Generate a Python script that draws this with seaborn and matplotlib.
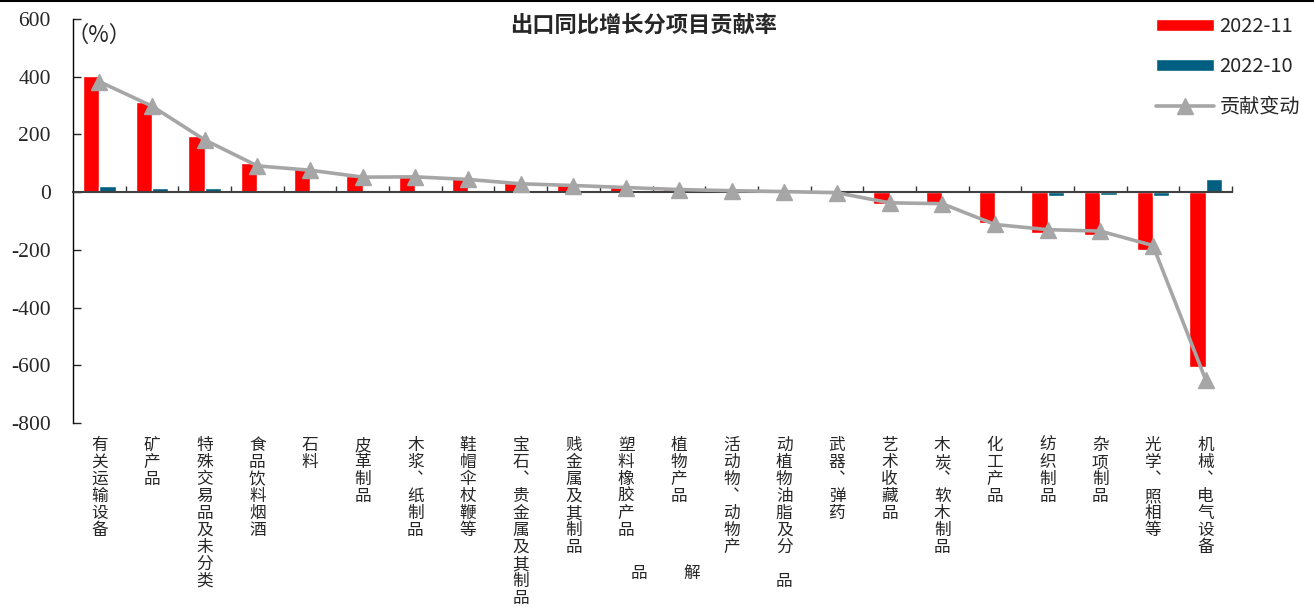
import pandas as pd
import numpy as np
import seaborn as sns
import matplotlib.pyplot as plt
import matplotlib.transforms as mtransforms
from matplotlib.lines import Line2D

categories = ['有关运输设备', '矿产品', '特殊交易品及未分类', '食品饮料烟酒', '石料',
              '皮革制品', '木浆︑纸制品', '鞋帽伞杖鞭等', '宝石︑贵金属及其制品',
              '贱金属及其制品', '塑料橡胶产品', '植物产品', '活动物︑动物产',
              '动植物油脂及分 品', '武器︑弹药', '艺术收藏品', '木炭︑软木制品',
              '化工产品', '纺织制品', '杂项制品', '光学︑照相等', '机械︑电气设备']
nov = [403, 314, 194, 100, 82, 57, 58, 48, 33, 28, 20, 10, 6, 3, -2, -40, -37,
       -107, -141, -147, -199, -605]
octo = [20, 13, 13, 8, 6, 5, 5, 4, 4, 4, 3, 1, 1, 0.5, -1, -2, -2,
        8, -12, -10, -12, 47]
change = [383, 298, 181, 91, 76, 52, 53, 44, 29, 23, 16, 9, 5, 2, -2, -37, -40,
          -112, -130, -135, -185, -650]
series = ['2022-11', '2022-10']
# stray characters that spill below two of the labels
extra_chars = ['品', '解']

df = pd.DataFrame({'cat': categories * 2,
                   'val': nov + octo,
                   'series': [series[0]] * len(categories) + [series[1]] * len(categories)})

sns.set_style('white')
plt.rcParams['font.family'] = ['Noto Sans CJK SC', 'DejaVu Sans']

W, H = 1314, 610
fig = plt.figure(figsize=(W / 100, H / 100), dpi=100)
ax = fig.add_axes([73 / W, (H - 423) / H, (1232 - 73) / W, (423 - 19) / H])

sns.barplot(data=df, x='cat', y='val', hue='series', hue_order=series,
            palette=['#FF0000', '#005F80'], width=0.62, ax=ax, saturation=1)
ax.plot(range(len(categories)), change, color='#A6A6A6', lw=2.6, marker='^',
        markersize=12, label='贡献变动', zorder=5)

ax.set_xlim(-0.5, len(categories) - 0.5)
ax.set_ylim(-800, 600)
ax.set_yticks(np.arange(-800, 601, 200))
ax.set_yticklabels([str(v) for v in range(-800, 601, 200)])
for t in ax.get_yticklabels():
    t.set_fontfamily('Liberation Serif')
    t.set_fontsize(15.5)
ax.tick_params(axis='y', direction='in', length=6, width=1, pad=16, left=True)
ax.set_xlabel('')
ax.set_ylabel('')
ax.set_xticks(range(len(categories)))
ax.set_xticklabels([])
ax.tick_params(axis='x', which='major', length=0)
ax.set_xticks(np.arange(0.5, len(categories) - 0.4, 1), minor=True)
ax.tick_params(axis='x', which='minor', direction='in', length=4, width=1,
               color='#333333', bottom=True)

for s in ['top', 'right']:
    ax.spines[s].set_visible(False)
ax.spines['bottom'].set_position(('data', 0))
ax.spines['bottom'].set_color('#404040')
ax.spines['bottom'].set_linewidth(1.5)
ax.spines['left'].set_color('black')
ax.spines['left'].set_linewidth(1)

# category labels written vertically at the bottom of the chart
trans = mtransforms.blended_transform_factory(ax.transData, ax.transAxes)
for i, lab in enumerate(categories):
    ax.text(i, -0.035, '\n'.join(lab), transform=trans, ha='center', va='top',
            fontsize=12, linespacing=1.0, clip_on=False)
row7 = -0.035 - 7 * 18.3 / 404
ax.text(10.25, row7, extra_chars[0], transform=trans, ha='center', va='top', fontsize=12)
ax.text(11.25, row7, extra_chars[1], transform=trans, ha='center', va='top', fontsize=12)

ax.text(-0.006, 0.96, '（%）', transform=ax.transAxes, fontsize=16, va='center')
fig.text(0.49, 0.958, '出口同比增长分项目贡献率', ha='center', va='center',
         fontsize=16, fontweight='bold')

handles, labels = ax.get_legend_handles_labels()
order = [labels.index(s) for s in series] + [labels.index('贡献变动')]
ax.legend([handles[k] for k in order], [labels[k] for k in order],
          loc='upper left', bbox_to_anchor=(1148 / W, 1 - 8 / H),
          bbox_transform=fig.transFigure, frameon=False, fontsize=14.5,
          handlelength=2.9, handleheight=0.6, labelspacing=0.95,
          handletextpad=0.25, borderaxespad=0)

fig.add_artist(Line2D([0, 1], [0.999, 0.999], color='black', lw=1.5,
                      transform=fig.transFigure))

fig.savefig('out.png', dpi=100)
